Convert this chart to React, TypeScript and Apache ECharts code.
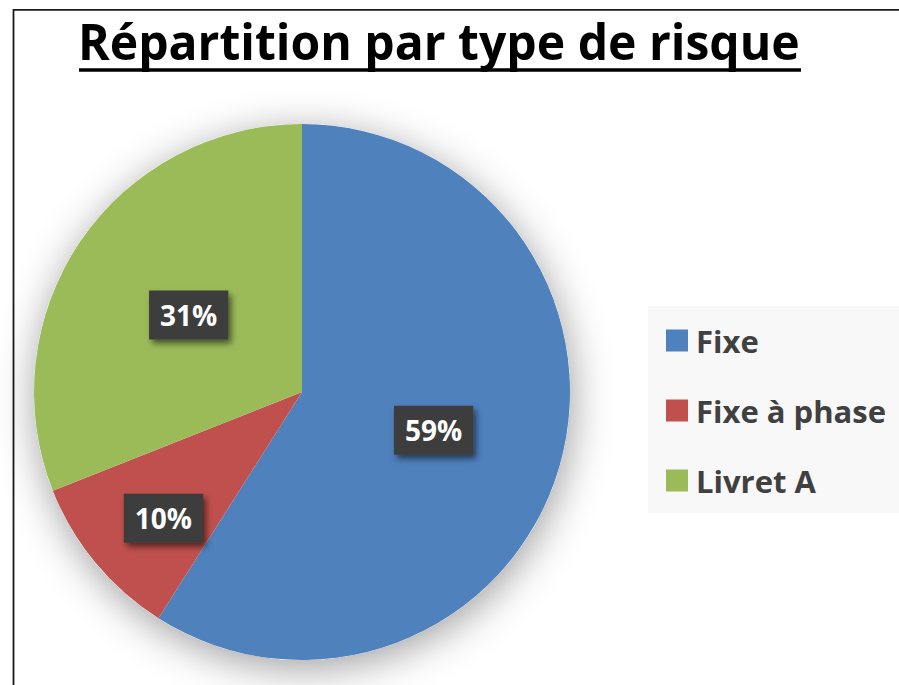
import React, { useEffect, useRef } from "react";
import * as echarts from "echarts";

const TITLE = "Répartition par type de risque";
const categories = ["Fixe", "Fixe à phase", "Livret A"];
const values = [59, 10, 31];
const colors = ["#4F81BD", "#C0504D", "#9BBB59"];

const FONT = '"Open Sans", "Noto Sans", sans-serif';

function measure(text: string, font: string): number {
  const c = document.createElement("canvas").getContext("2d");
  if (!c) return 0;
  c.font = font;
  return c.measureText(text).width;
}

export default function App() {
  const ref = useRef<HTMLDivElement>(null);
  useEffect(() => {
    if (!ref.current) return;
    document.body.style.margin = "0";
    const chart = echarts.init(ref.current, null, { renderer: "svg" });
    const titleSize = 51;
    const w = measure(TITLE, `bold ${titleSize}px "Open Sans"`) || 800;
    const sx = 722 / w;
    const center = [302, 392];
    const radius = 268;
    chart.setOption({
      animation: false,
      backgroundColor: "#ffffff",
      graphic: [
        {
          type: "rect",
          z: 0,
          shape: { x: 13.5, y: 9.8, width: 1000, height: 1000 },
          style: { fill: "none", stroke: "#1a1a1a", lineWidth: 1.8 },
        },
        {
          type: "rect",
          z: 0,
          shape: { x: 648, y: 306, width: 300, height: 207 },
          style: { fill: "#f8f8f8" },
        },
        {
          type: "text",
          x: 78,
          y: 40,
          scaleX: sx,
          style: {
            text: TITLE,
            font: `bold ${titleSize}px ${FONT}`,
            fill: "#000000",
            align: "left",
            verticalAlign: "middle",
          },
        },
        {
          type: "rect",
          shape: { x: 79, y: 68.3, width: 722, height: 3.5 },
          style: { fill: "#000000" },
        },
      ],
      legend: {
        orient: "vertical",
        left: 661,
        top: 320,
        data: categories,
        icon: "rect",
        itemWidth: 22,
        itemHeight: 22,
        itemGap: 39,
        selectedMode: false,
        textStyle: {
          fontFamily: FONT,
          fontWeight: "bold",
          fontSize: 31,
          color: "#404040",
          padding: [0, 0, 0, 3],
        },
      },
      series: [
        {
          type: "pie",
          silent: true,
          z: 1,
          center,
          radius,
          data: [{ value: 1, name: "" }],
          label: { show: false },
          labelLine: { show: false },
          itemStyle: {
            color: "#ffffff",
            shadowBlur: 40,
            shadowColor: "rgba(0,0,0,0.38)",
            shadowOffsetX: 2,
            shadowOffsetY: 8,
          },
        },
        {
          type: "pie",
          z: 2,
          center,
          radius,
          startAngle: 90,
          clockwise: true,
          data: categories.map((name, i) => ({
            name,
            value: values[i],
            itemStyle: { color: colors[i] },
          })),
          itemStyle: { borderWidth: 0 },
          label: {
            show: true,
            position: "inside",
            formatter: (p: any) => Math.round(p.percent) + "%",
            fontFamily: FONT,
            fontWeight: "bold",
            fontSize: 28,
            lineHeight: 29,
            color: "#ffffff",
            backgroundColor: "#3d3d3d",
            padding: [10, 11],
            shadowColor: "rgba(0,0,0,0.55)",
            shadowBlur: 6,
            shadowOffsetX: 3,
            shadowOffsetY: 4,
          },
          labelLine: { show: false },
          labelLayout: (p: any) => (p.dataIndex === 1 ? { dx: -33, dy: 39 } : {}),
        },
      ],
    });
    return () => chart.dispose();
  }, []);
  return (
    <div
      ref={ref}
      style={{ position: "fixed", left: 0, top: 0, width: 899, height: 685 }}
    />
  );
}
